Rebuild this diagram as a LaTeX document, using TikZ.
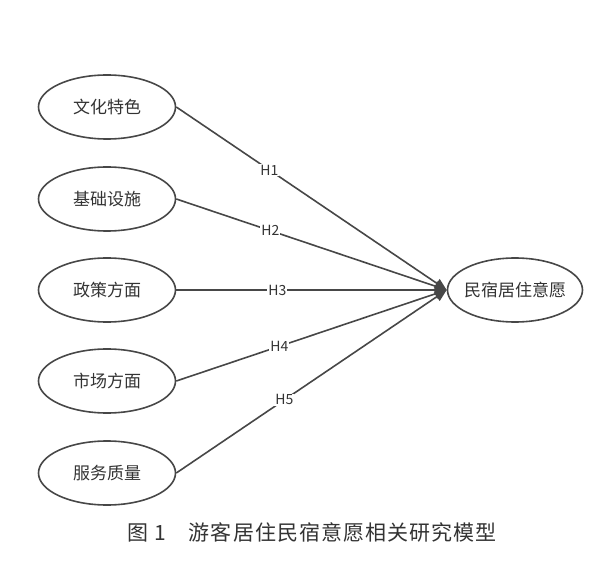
\documentclass[tikz,border=0pt]{standalone}
\usepackage{fontspec}
\setmainfont{Noto Sans CJK SC}
\newfontfamily\capfont[LetterSpace=5]{Noto Sans CJK SC}
\usetikzlibrary{shapes.geometric,arrows.meta}
\definecolor{linegray}{HTML}{474747}
\definecolor{textgray}{HTML}{333333}
\tikzset{
factor/.style={ellipse,draw=linegray,line width=1.6pt,text=textgray,minimum width=137pt,minimum height=64pt,inner xsep=-4pt,font=\fontsize{17pt}{20pt}\selectfont},
link/.style={draw=linegray,line width=1.6pt,-{Triangle[length=12pt,width=10pt]}},
hypo/.style={fill=white,text=textgray,inner sep=1pt,font=\fontsize{14pt}{16pt}\selectfont},
}

\begin{document}
\begin{tikzpicture}[x=1pt,y=-1pt]
\useasboundingbox (0,0) rectangle (613,561);
\node[factor] (wenhua) at (107,107) {文化特色};
\node[factor] (jichu) at (107,199) {基础设施};
\node[factor] (zhengce) at (107,290) {政策方面};
\node[factor] (shichang) at (107,381) {市场方面};
\node[factor] (fuwu) at (107,473) {服务质量};
\node[factor,minimum width=135pt] (yiyuan) at (515,290) {民宿居住意愿};
\foreach \src/\lab/\p in {wenhua/H1/0.344, jichu/H2/0.348, zhengce/H3/0.374, shichang/H4/0.381, fuwu/H5/0.40}
  \draw[link] (\src.east) -- (yiyuan.west) node[hypo,pos=\p] {\lab};
\node[font=\capfont\fontsize{21pt}{24pt}\selectfont,text=textgray] (caption) at (312,532) {图 1　游客居住民宿意愿相关研究模型};
\end{tikzpicture}
\end{document}
